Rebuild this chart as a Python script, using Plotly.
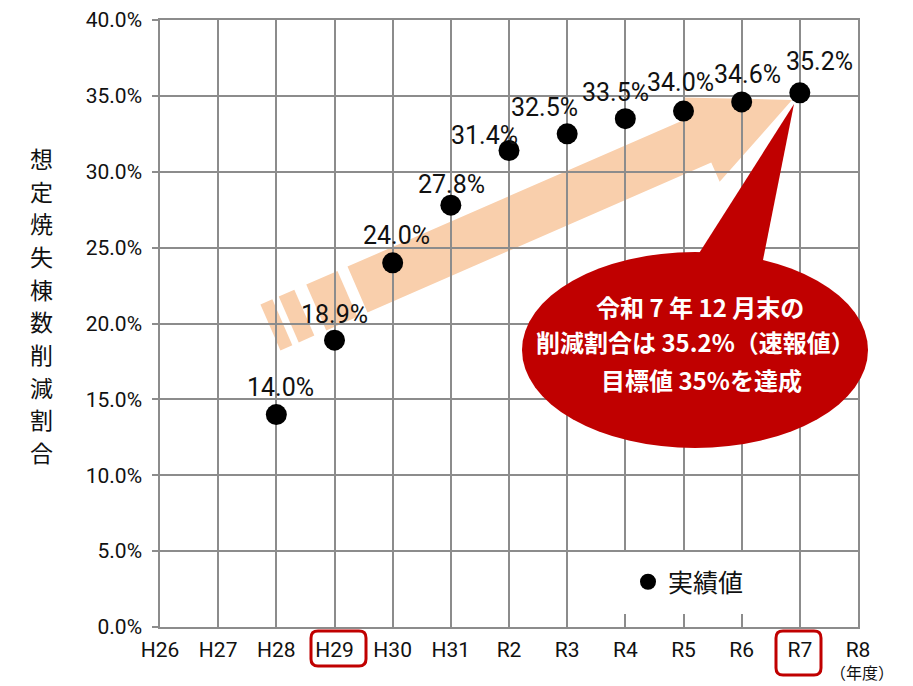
import math
import plotly.graph_objects as go

# ---------------- data ----------------
categories = ["H26", "H27", "H28", "H29", "H30", "H31", "R2", "R3", "R4", "R5", "R6", "R7", "R8"]
point_categories = ["H28", "H29", "H30", "H31", "R2", "R3", "R4", "R5", "R6", "R7"]
values = [14.0, 18.9, 24.0, 27.8, 31.4, 32.5, 33.5, 34.0, 34.6, 35.2]
y_ticks = [0, 5, 10, 15, 20, 25, 30, 35, 40]
y_tick_labels = ["0.0%", "5.0%", "10.0%", "15.0%", "20.0%", "25.0%", "30.0%", "35.0%", "40.0%"]
series_name = "実績値"
y_title = "想定焼失棟数削減割合"
x_unit = "（年度）"
callout_lines = ["令和 7 年 12 月末の", "削減割合は 35.2%（速報値）", "目標値 35%を達成"]

# label offsets (px) relative to each point (layout only)
label_dx = [4, 0, 3.5, 1, -25, -23, -10, -3, 6, 20]
label_dy = [-27, -26, -27.5, -20.5, -15, -26, -26, -29, -27, -31]

# ---------------- geometry helpers ----------------
W, H = 913, 686
L, R, T, B = 160, 55, 20, 59
PW, PH = W - L - R, H - T - B


def px(x):
    return (x - L) / PW


def py(y):
    return (H - B - y) / PH


def path(points):
    s = "M {:.5f},{:.5f} ".format(px(points[0][0]), py(points[0][1]))
    for p in points[1:]:
        s += "L {:.5f},{:.5f} ".format(px(p[0]), py(p[1]))
    return s + "Z"


def rounded(x0, y0, x1, y1, r):
    pts = lambda x, y: "{:.5f},{:.5f}".format(px(x), py(y))
    return ("M " + pts(x0 + r, y0) + " L " + pts(x1 - r, y0) + " Q " + pts(x1, y0) + " " + pts(x1, y0 + r)
            + " L " + pts(x1, y1 - r) + " Q " + pts(x1, y1) + " " + pts(x1 - r, y1)
            + " L " + pts(x0 + r, y1) + " Q " + pts(x0, y1) + " " + pts(x0, y1 - r)
            + " L " + pts(x0, y0 + r) + " Q " + pts(x0, y0) + " " + pts(x0 + r, y0) + " Z")


idx = {c: i for i, c in enumerate(categories)}
xs = [idx[c] for c in point_categories]

NUM_FONT = "Roboto, Noto Sans CJK JP, sans-serif"
JP_FONT = "Noto Sans CJK JP, sans-serif"
GRID = "#8c8c8c"
RED = "#c00000"
PEACH = "#f9cfac"

fig = go.Figure()
fig.add_trace(go.Scatter(
    x=xs, y=values, mode="markers", name=series_name,
    marker=dict(size=21, color="black"), showlegend=True, cliponaxis=False,
))

# ---------------- arrow (decoration) ----------------
tip = (792.0, 100.0)
start = (357.5, 289.5)
dx, dy = tip[0] - start[0], tip[1] - start[1]
ln = math.hypot(dx, dy)
u = (dx / ln, dy / ln)
n = (-u[1], u[0])
if n[1] < 0:
    n = (-n[0], -n[1])
hw, headL, headW = 25, 99, 46
base = (tip[0] - headL * u[0], tip[1] - headL * u[1])


def off(p, a, b):
    return (p[0] + a * u[0] + b * n[0], p[1] + a * u[1] + b * n[1])


arrow_pts = [off(start, 0, -hw), off(base, 0, -hw), off(base, 0, -headW), tip,
             off(base, 0, headW), off(base, 0, hw), off(start, 0, hw)]
shapes = [dict(type="path", path=path(arrow_pts), xref="paper", yref="paper",
               fillcolor=PEACH, line=dict(width=0), layer="below")]
for a0, a1 in [(-45, -11), (-75, -58), (-95, -82)]:
    pts = [off(start, a0, -hw), off(start, a1, -hw), off(start, a1, hw), off(start, a0, hw)]
    shapes.append(dict(type="path", path=path(pts), xref="paper", yref="paper",
                       fillcolor=PEACH, line=dict(width=0), layer="below"))

# legend white box
shapes.append(dict(type="rect", xref="paper", yref="paper", x0=px(612), x1=px(768), y0=py(614), y1=py(552),
                   fillcolor="white", line=dict(width=0), layer="above"))

# callout bubble
shapes.append(dict(type="circle", xref="paper", yref="paper", x0=px(522), x1=px(868), y0=py(448), y1=py(252),
                   fillcolor=RED, line=dict(width=0), layer="above"))
shapes.append(dict(type="path", xref="paper", yref="paper",
                   path=path([(682, 280), (794, 104), (759, 280)]),
                   fillcolor=RED, line=dict(width=0), layer="above"))

# highlight boxes on tick labels
shapes.append(dict(type="path", xref="paper", yref="paper", path=rounded(311, 631, 366, 666, 7),
                   line=dict(color=RED, width=3), fillcolor="rgba(0,0,0,0)", layer="above"))
shapes.append(dict(type="path", xref="paper", yref="paper", path=rounded(776, 631, 821, 675, 7),
                   line=dict(color=RED, width=3), fillcolor="rgba(0,0,0,0)", layer="above"))

annotations = []
for x, v, ddx, ddy in zip(xs, values, label_dx, label_dy):
    annotations.append(dict(x=x, y=v, xref="x", yref="y", text="{:.1f}%".format(v), showarrow=False,
                            xshift=ddx, yshift=-ddy, xanchor="center", yanchor="middle",
                            font=dict(family=NUM_FONT, size=25, color="#111")))

# vertical axis title, one character per row
n_chars = len(y_title)
for i, ch in enumerate(y_title):
    cy = 158 + i * (452 - 158) / (n_chars - 1)
    annotations.append(dict(x=px(41), y=py(cy), xref="paper", yref="paper", text=ch,
                            showarrow=False, xanchor="center", yanchor="middle",
                            font=dict(family=JP_FONT, size=23, color="#111")))

# unit under the last category
annotations.append(dict(x=px(862), y=py(686), xref="paper", yref="paper", text=x_unit, showarrow=False,
                        xanchor="center", yanchor="bottom", font=dict(family=JP_FONT, size=16, color="#111")))

for line, (cx, cy) in zip(callout_lines, [(700, 306), (695, 341), (701, 379)]):
    annotations.append(dict(x=px(cx), y=py(cy), xref="paper", yref="paper", text="<b>" + line + "</b>",
                            showarrow=False, xanchor="center", yanchor="middle",
                            font=dict(family=JP_FONT, size=24, color="white")))

fig.update_layout(
    width=W, height=H, margin=dict(l=L, r=R, t=T, b=B, autoexpand=False),
    plot_bgcolor="white", paper_bgcolor="white",
    xaxis=dict(range=[0, len(categories) - 1], tickvals=list(range(len(categories))), ticktext=categories,
               showgrid=True, gridcolor=GRID, gridwidth=1.5, showline=True, linecolor=GRID, linewidth=1.5,
               mirror=True, ticks="", zeroline=False, ticklabelstandoff=3, automargin=False,
               tickfont=dict(family=NUM_FONT, size=21, color="#111")),
    yaxis=dict(range=[0, 40], tickvals=y_ticks, ticktext=y_tick_labels, automargin=False,
               showgrid=True, gridcolor=GRID, gridwidth=1.5, showline=True, linecolor=GRID, linewidth=1.5,
               mirror=True, ticks="outside", ticklen=6, tickcolor=GRID, tickwidth=1.5, zeroline=False,
               ticklabelstandoff=6, tickfont=dict(family=NUM_FONT, size=21, color="#111")),
    shapes=shapes, annotations=annotations,
    legend=dict(x=px(628), y=py(582), xanchor="left", yanchor="middle", bgcolor="rgba(0,0,0,0)",
                font=dict(family=JP_FONT, size=25, color="#111"), itemsizing="trace"),
    showlegend=True,
)

fig.write_html("out.html", config={"displayModeBar": False},
               post_script="document.body.style.margin='0px';")
